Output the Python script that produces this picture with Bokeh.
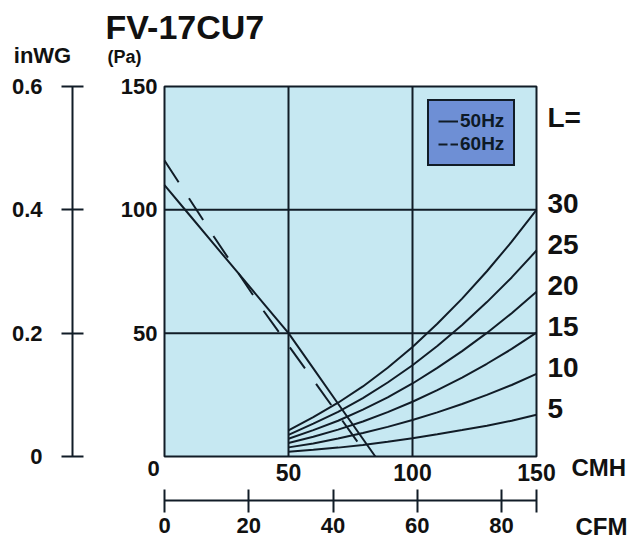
from bokeh.plotting import figure
from bokeh.models import (Range1d, LinearAxis, FixedTicker, Label, LabelSet,
                          ColumnDataSource, Legend, LegendItem, NumeralTickFormatter)
from bokeh.core.properties import value
from bokeh.embed import file_html
from bokeh.resources import INLINE

# ---------------- data ----------------
TITLE = "FV-17CU7"
CMH_MAX = 150
PA_MAX = 150
INWG_MAX = 0.6
CFM_PER_CMH = 0.5886

CMH_TICKS = [50, 100, 150]
PA_TICKS = [50, 100, 150]
INWG_TICKS = [0, 0.2, 0.4, 0.6]
CFM_TICKS = [0, 20, 40, 60, 80]
GRID_CMH = [50, 100]
GRID_PA = [50, 100]

# fan curves
FAN50_CMH = [0, 10, 20, 30, 40, 50, 60, 70, 85]
FAN50_PA = [110, 98, 86, 74, 62, 50, 35.7, 21.4, 0]
FAN60_CMH = [0, 10, 20, 30, 40, 50, 60, 70, 82]
FAN60_PA = [120, 104.5, 89, 74, 59, 45, 31, 17, 0]

# system resistance curves (duct length L)
SYS_CMH = [50, 60, 70, 80, 90, 100, 110, 120, 130, 140, 150]
SYS_L30 = [10.6, 16.0, 21.8, 28.4, 36.0, 44.4, 53.8, 64.0, 75.1, 87.1, 100.0]
SYS_L25 = [8.8, 13.3, 18.1, 23.7, 30.0, 37.0, 44.8, 53.3, 62.6, 72.6, 83.5]
SYS_L20 = [7.2, 10.7, 14.5, 19.0, 24.0, 29.6, 35.9, 42.7, 50.1, 58.1, 66.8]
SYS_L15 = [5.5, 8.0, 10.9, 14.2, 18.0, 22.2, 26.9, 32.0, 37.6, 43.6, 50.2]
SYS_L10 = [3.7, 5.3, 7.3, 9.5, 12.0, 14.8, 17.9, 21.3, 25.0, 29.0, 33.5]
SYS_L5 = [1.9, 2.7, 3.6, 4.7, 6.0, 7.4, 9.0, 10.7, 12.5, 14.5, 16.9]
SYS_LABELS = ["30", "25", "20", "15", "10", "5"]

# ---------------- layout (pixels) ----------------
W, H = 634, 540
FRAME_L, FRAME_R, FRAME_T, FRAME_B = 164, 536, 86, 456
SX = (FRAME_R - FRAME_L) / CMH_MAX
SY = (FRAME_B - FRAME_T) / PA_MAX
X0, X1 = -FRAME_L / SX, (W - FRAME_L) / SX
Y0, Y1 = -(H - FRAME_B) / SY, FRAME_B / SY

def dx(px):
    return (px - FRAME_L) / SX

def dy(py):
    return (FRAME_B - py) / SY

# ---------------- style ----------------
FONT = "Liberation Sans"
NARROW = "'Liberation Sans Narrow', 'Liberation Sans', sans-serif"
LINE = "#111c27"
TEXT = "#111111"
BG = "#c6e8f2"
LEG_BG = "#6e8fd5"

p = figure(width=W, height=H, x_range=Range1d(X0, X1), y_range=Range1d(Y0, Y1),
           output_backend="svg", toolbar_location=None, title=None,
           x_axis_location=None, y_axis_location=None,
           min_border=0, min_border_left=0, min_border_right=0,
           min_border_top=0, min_border_bottom=0,
           background_fill_color="white", border_fill_color="white")
p.outline_line_color = None
p.grid.visible = False

p.extra_y_ranges = {"inwg": Range1d(Y0 * INWG_MAX / PA_MAX, Y1 * INWG_MAX / PA_MAX)}
p.extra_x_ranges = {"cfm": Range1d(X0 * CFM_PER_CMH, X1 * CFM_PER_CMH)}

# chart area
p.quad(left=[0], right=[CMH_MAX], bottom=[0], top=[PA_MAX], fill_color=BG,
       line_color=LINE, line_width=2)
p.segment(x0=GRID_CMH, y0=[0] * len(GRID_CMH), x1=GRID_CMH, y1=[PA_MAX] * len(GRID_CMH),
          line_color=LINE, line_width=2)
p.segment(x0=[0] * len(GRID_PA), y0=GRID_PA, x1=[CMH_MAX] * len(GRID_PA), y1=GRID_PA,
          line_color=LINE, line_width=2)


def style_labels(ax, size, font=FONT):
    ax.major_label_text_font = font
    ax.major_label_text_font_style = "bold"
    ax.major_label_text_font_size = size
    ax.major_label_text_color = TEXT
    ax.minor_tick_line_color = None


# CMH axis (labels under chart)
xa = LinearAxis(ticker=FixedTicker(ticks=CMH_TICKS), fixed_location=0, bounds=(0, CMH_MAX))
xa.axis_line_color = None
xa.major_tick_line_color = None
xa.major_tick_in = 0
xa.major_tick_out = 0
xa.major_label_standoff = 7
style_labels(xa, "23px")
p.add_layout(xa, "below")

# Pa axis
ya = LinearAxis(ticker=FixedTicker(ticks=PA_TICKS), fixed_location=0, bounds=(0, PA_MAX))
ya.axis_line_color = None
ya.major_tick_line_color = None
ya.major_tick_in = 0
ya.major_tick_out = 0
ya.major_label_standoff = 7
style_labels(ya, "22px")
p.add_layout(ya, "left")

# inWG axis
wa = LinearAxis(y_range_name="inwg", ticker=FixedTicker(ticks=INWG_TICKS),
                formatter=NumeralTickFormatter(format="0.[0]"),
                fixed_location=dx(72), bounds=(0, INWG_MAX))
wa.axis_line_color = LINE
wa.axis_line_width = 2
wa.major_tick_line_color = LINE
wa.major_tick_line_width = 2
wa.major_tick_in = 11
wa.major_tick_out = 11
wa.major_label_standoff = 19
style_labels(wa, "22px")
p.add_layout(wa, "left")

# CFM axis
ca = LinearAxis(x_range_name="cfm",
                ticker=FixedTicker(ticks=CFM_TICKS, minor_ticks=[CMH_MAX * CFM_PER_CMH]),
                fixed_location=dy(500), bounds=(0, CMH_MAX * CFM_PER_CMH))
ca.axis_line_color = LINE
ca.axis_line_width = 2
ca.major_tick_line_color = LINE
ca.major_tick_line_width = 2
ca.major_tick_in = 11
ca.major_tick_out = 12
ca.major_label_standoff = 5
style_labels(ca, "22px", NARROW)
ca.minor_tick_line_color = LINE
ca.minor_tick_line_width = 2
ca.minor_tick_in = 11
ca.minor_tick_out = 12
p.add_layout(ca, "below")

# curves
for ys in (SYS_L30, SYS_L25, SYS_L20, SYS_L15, SYS_L10, SYS_L5):
    p.line(SYS_CMH, ys, line_color=LINE, line_width=2)
r50 = p.line(FAN50_CMH, FAN50_PA, line_color=LINE, line_width=2)
r60 = p.line(FAN60_CMH, FAN60_PA, line_color=LINE, line_width=2, line_dash="26 19")
r60_leg = p.line(x=FAN60_CMH[:1], y=FAN60_PA[:1], line_color=LINE, line_width=2,
                 line_dash="9 3")

legend = Legend(items=[LegendItem(label="50Hz", renderers=[r50]),
                       LegendItem(label="60Hz", renderers=[r60_leg])],
                location=(427, H - 166), orientation="vertical",
                background_fill_color=LEG_BG, background_fill_alpha=1,
                border_line_color=LINE, border_line_width=2, border_line_alpha=1,
                padding=9, spacing=1, margin=0,
                label_text_font=FONT, label_text_font_style="bold",
                label_text_font_size="19px", label_text_color="#0d1a26",
                glyph_width=20, glyph_height=20, label_height=20, label_standoff=2)
p.add_layout(legend)

# curve labels on the right
ends = [s[-1] for s in (SYS_L30, SYS_L25, SYS_L20, SYS_L15, SYS_L10, SYS_L5)]
lab_src = ColumnDataSource(dict(x=[SYS_CMH[-1]] * len(ends), y=ends, t=SYS_LABELS))
p.add_layout(LabelSet(x="x", y="y", text="t", source=lab_src, x_offset=11, y_offset=6,
                      text_align="left", text_baseline="middle", text_font=value(FONT),
                      text_font_style="bold", text_font_size="28px", text_color=TEXT))


def lab(px, py, text, size, align="left"):
    p.add_layout(Label(x=dx(px), y=dy(py), text=text, text_font=FONT,
                       text_font_style="bold", text_font_size=size, text_align=align,
                       text_baseline="middle", text_color=TEXT))


lab(547, 117, "L=", "28px")
lab(105, 26, TITLE, "34px")
lab(42, 55, "inWG", "22px", align="center")
lab(107, 56, "(Pa)", "18px")
lab(153, 468, "0", "22px", align="center")
lab(571, 467, "CMH", "24px")
lab(575, 526, "CFM", "24px")

open("out.html", "w").write(file_html(p, INLINE))
